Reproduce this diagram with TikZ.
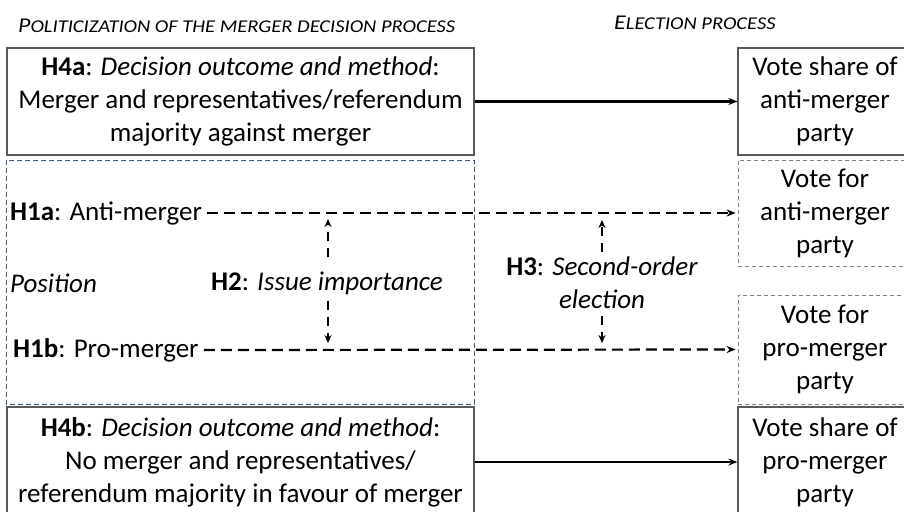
\documentclass[tikz,border=0pt]{standalone}
\usepackage{fontspec}
\setmainfont{Carlito}
\usetikzlibrary{arrows.meta}
\definecolor{boxgray}{HTML}{595959}
\definecolor{dblue}{HTML}{3B5585}
\newcommand{\bigtxt}{\fontsize{27}{33}\selectfont}
\newcommand{\fsc}[2]{\scalebox{1.14}[1]{{\fontsize{21}{24}\selectfont #1}{\fontsize{18}{24}\selectfont #2}}}
\tikzset{
  solidbox/.style={draw=boxgray, line width=1.2pt, align=center, inner sep=0pt, font=\bigtxt},
  grayd/.style={draw=gray, line width=0.8pt, dash pattern=on 4pt off 3pt, align=center, inner sep=0pt, font=\bigtxt},
  bluebox/.style={draw=dblue, line width=0.8pt, dash pattern=on 5pt off 3pt},
  lab/.style={font=\bigtxt, inner sep=1pt},
  solidarrow/.style={line width=2.2pt, -{Stealth[length=9pt,width=7pt]}},
  dasharrow/.style={line width=2.2pt, dash pattern=on 11pt off 6pt, -{Stealth[length=9pt,width=7pt]}},
  vdash/.style={line width=1.8pt, dash pattern=on 9pt off 7pt, -{Stealth[length=8pt,width=7pt]}},
}
\begin{document}
\begin{tikzpicture}[x=1pt,y=-1pt]
\useasboundingbox (0,0) rectangle (904,511);
% headers
\node[anchor=west, inner sep=0pt] (hleft) at (18,26) {\itshape\fsc{P}{OLITICIZATION OF THE MERGER DECISION PROCESS}};
\node[anchor=west, inner sep=0pt] (hright) at (614,23) {\itshape\fsc{E}{LECTION PROCESS}};
% left boxes
\node[solidbox, minimum width=467pt, minimum height=107pt] (h4a) at (240.5,101.5)
  {\textbf{H4a}: \textit{Decision outcome and method}:\\Merger and representatives/referendum\\majority against merger};
\draw[bluebox] (6,160) rectangle (474,404);
\node[solidbox, minimum width=467pt, minimum height=110pt] (h4b) at (240.5,462)
  {\textbf{H4b}: \textit{Decision outcome and method}:\\No merger and representatives/\\referendum majority in favour of merger};
% right boxes
\node[solidbox, minimum width=174pt, minimum height=107pt] (vsa) at (825,101.5)
  {Vote share of\\anti-merger\\party};
\node[grayd, minimum width=174pt, minimum height=106pt] (vfa) at (825,213)
  {Vote for\\anti-merger\\party};
\node[grayd, minimum width=174pt, minimum height=109pt] (vfp) at (825,349.5)
  {Vote for\\pro-merger\\party};
\node[solidbox, minimum width=174pt, minimum height=110pt] (vsp) at (825,462)
  {Vote share of\\pro-merger\\party};
% left labels
\node[lab, anchor=west] (h1a) at (9,213) {\textbf{H1a}: Anti-merger};
\node[lab, anchor=west] (h1b) at (12,350) {\textbf{H1b}: Pro-merger};
\node[lab, anchor=west] (pos) at (9,283) {\textit{Position}};
\node[lab, fill=white, inner ysep=3pt] (h2) at (327,283) {\textbf{H2}: \textit{Issue importance}};
\node[lab, fill=white, align=center, inner ysep=2pt] (h3) at (602,283) {\textbf{H3}: \textit{Second-order}\\\textit{election}};
% solid arrows
\draw[solidarrow] (h4a.east) -- (vsa.west);
\draw[solidarrow] (h4b.east) -- (vsp.west);
% dashed horizontals
\draw[dasharrow, shorten <=4pt, shorten >=2pt] (h1a.east) -- (vfa.west);
\draw[dasharrow, shorten <=4pt, shorten >=2pt] (h1b.east) -- (vfp.west);
% verticals
\coordinate (h2t) at (328,219);
\coordinate (h2b) at (328,343);
\coordinate (h3t) at (602,220);
\coordinate (h3b) at (602,343);
\draw[vdash] (h2.north -| h2t) ++(0,-11) -- (h2t);
\draw[vdash] (h2.south -| h2b) ++(0,3) -- (h2b);
\draw[vdash] (h3.north -| h3t) ++(0,-3) -- (h3t);
\draw[vdash] (h3.south -| h3b) ++(0,5) -- (h3b);
\end{tikzpicture}
\end{document}
